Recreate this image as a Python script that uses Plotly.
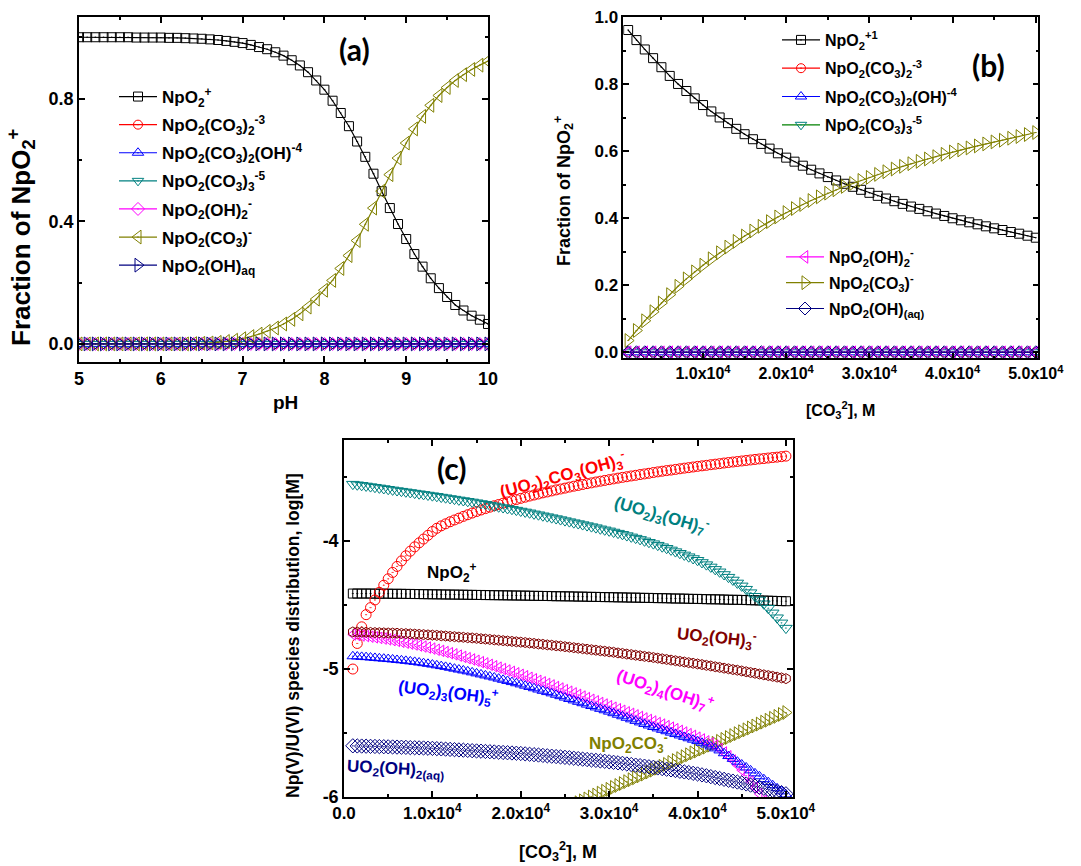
import plotly.graph_objects as go

W, H = 1081, 866
FONT = "Liberation Sans, Arial, sans-serif"
LFONT = "Lato, Open Sans, sans-serif"

# ---------------- panel (a): fraction vs pH ----------------
ph = [5.0, 5.1, 5.2, 5.3, 5.4, 5.5, 5.6, 5.7, 5.8, 5.9,
      6.0, 6.1, 6.2, 6.3, 6.4, 6.5, 6.6, 6.7, 6.8, 6.9,
      7.0, 7.1, 7.2, 7.3, 7.4, 7.5, 7.6, 7.7, 7.8, 7.9,
      8.0, 8.1, 8.2, 8.3, 8.4, 8.5, 8.6, 8.7, 8.8, 8.9,
      9.0, 9.1, 9.2, 9.3, 9.4, 9.5, 9.6, 9.7, 9.8, 9.9, 10.0]
a_npo2 = [1.000, 1.000, 1.000, 1.000, 1.000, 1.000, 1.000, 0.999, 0.999, 0.999,
          0.999, 0.998, 0.998, 0.997, 0.996, 0.995, 0.993, 0.991, 0.988, 0.985,
          0.981, 0.975, 0.968, 0.961, 0.951, 0.940, 0.925, 0.908, 0.886, 0.859,
          0.829, 0.793, 0.753, 0.710, 0.660, 0.610, 0.555, 0.498, 0.443, 0.391,
          0.342, 0.293, 0.252, 0.214, 0.182, 0.153, 0.127, 0.109, 0.092, 0.079, 0.065]
a_npo2co3 = [0.000, 0.000, 0.000, 0.000, 0.000, 0.000, 0.000, 0.000, 0.000, 0.000,
             0.000, 0.000, 0.000, 0.000, 0.001, 0.002, 0.003, 0.005, 0.008, 0.012,
             0.017, 0.024, 0.032, 0.041, 0.052, 0.065, 0.080, 0.098, 0.120, 0.146,
             0.175, 0.207, 0.246, 0.288, 0.337, 0.390, 0.443, 0.498, 0.552, 0.606,
             0.655, 0.701, 0.742, 0.778, 0.810, 0.836, 0.859, 0.878, 0.895, 0.909, 0.922]
a_trace = [0.0, 0.0, 0.0, 0.0, 0.0, 0.0, 0.0, 0.0, 0.0, 0.0,
           0.0, 0.0, 0.0, 0.0, 0.0, 0.0, 0.0, 0.0, 0.0, 0.0,
           0.0, 0.0, 0.0, 0.0, 0.0, 0.0, 0.0, 0.0, 0.0, 0.0,
           0.0, 0.0, 0.0, 0.0, 0.0, 0.0, 0.0, 0.0, 0.0, 0.0,
           0.0, 0.0, 0.0, 0.0, 0.0, 0.0, 0.0, 0.0, 0.0, 0.0, 0.0]

# ---------------- panel (b): fraction vs [CO3] (x in 1e-4 M) ----------------
cb = [0.1, 0.2, 0.3, 0.4, 0.5, 0.6, 0.7, 0.8, 0.9, 1.0,
      1.1, 1.2, 1.3, 1.4, 1.5, 1.6, 1.7, 1.8, 1.9, 2.0,
      2.1, 2.2, 2.3, 2.4, 2.5, 2.6, 2.7, 2.8, 2.9, 3.0,
      3.1, 3.2, 3.3, 3.4, 3.5, 3.6, 3.7, 3.8, 3.9, 4.0,
      4.1, 4.2, 4.3, 4.4, 4.5, 4.6, 4.7, 4.8, 4.9, 5.0]
b_npo2 = [0.962, 0.932, 0.904, 0.878, 0.851, 0.825, 0.801, 0.780, 0.758, 0.738,
          0.719, 0.701, 0.684, 0.667, 0.651, 0.636, 0.622, 0.608, 0.594, 0.581,
          0.569, 0.557, 0.545, 0.534, 0.523, 0.513, 0.503, 0.494, 0.485, 0.476,
          0.467, 0.459, 0.451, 0.443, 0.435, 0.428, 0.421, 0.414, 0.407, 0.400,
          0.394, 0.388, 0.382, 0.376, 0.370, 0.365, 0.359, 0.354, 0.348, 0.342]
b_npo2co3 = [0.035, 0.065, 0.094, 0.121, 0.147, 0.172, 0.197, 0.219, 0.240, 0.260,
             0.279, 0.297, 0.314, 0.331, 0.347, 0.362, 0.376, 0.390, 0.404, 0.417,
             0.429, 0.441, 0.453, 0.464, 0.475, 0.485, 0.495, 0.504, 0.513, 0.522,
             0.531, 0.539, 0.547, 0.555, 0.563, 0.570, 0.577, 0.584, 0.591, 0.598,
             0.604, 0.610, 0.616, 0.622, 0.628, 0.633, 0.639, 0.644, 0.650, 0.656]
b_trace = [0.0, 0.0, 0.0, 0.0, 0.0, 0.0, 0.0, 0.0, 0.0, 0.0,
           0.0, 0.0, 0.0, 0.0, 0.0, 0.0, 0.0, 0.0, 0.0, 0.0,
           0.0, 0.0, 0.0, 0.0, 0.0, 0.0, 0.0, 0.0, 0.0, 0.0,
           0.0, 0.0, 0.0, 0.0, 0.0, 0.0, 0.0, 0.0, 0.0, 0.0,
           0.0, 0.0, 0.0, 0.0, 0.0, 0.0, 0.0, 0.0, 0.0, 0.0]

# ---------------- panel (c): log[M] vs [CO3] (x in 1e-4 M) ----------------
cc = [0.10, 0.15, 0.20, 0.25, 0.30, 0.35, 0.40, 0.45, 0.50, 0.55,
      0.60, 0.65, 0.70, 0.75, 0.80, 0.85, 0.90, 0.95, 1.00, 1.05,
      1.10, 1.15, 1.20, 1.25, 1.30, 1.35, 1.40, 1.45, 1.50, 1.55,
      1.60, 1.65, 1.70, 1.75, 1.80, 1.85, 1.90, 1.95, 2.00, 2.05,
      2.10, 2.15, 2.20, 2.25, 2.30, 2.35, 2.40, 2.45, 2.50, 2.55,
      2.60, 2.65, 2.70, 2.75, 2.80, 2.85, 2.90, 2.95, 3.00, 3.05,
      3.10, 3.15, 3.20, 3.25, 3.30, 3.35, 3.40, 3.45, 3.50, 3.55,
      3.60, 3.65, 3.70, 3.75, 3.80, 3.85, 3.90, 3.95, 4.00, 4.05,
      4.10, 4.15, 4.20, 4.25, 4.30, 4.35, 4.40, 4.45, 4.50, 4.55,
      4.60, 4.65, 4.70, 4.75, 4.80, 4.85, 4.90, 4.95, 5.00]
c_npo2 = [-4.410, -4.410, -4.410, -4.410, -4.410, -4.411, -4.411, -4.411, -4.411, -4.412,
          -4.412, -4.412, -4.413, -4.413, -4.414, -4.414, -4.415, -4.415, -4.416, -4.416,
          -4.417, -4.417, -4.418, -4.418, -4.419, -4.419, -4.420, -4.420, -4.421, -4.421,
          -4.422, -4.422, -4.423, -4.423, -4.424, -4.424, -4.425, -4.425, -4.426, -4.426,
          -4.427, -4.428, -4.428, -4.429, -4.429, -4.430, -4.431, -4.431, -4.432, -4.432,
          -4.433, -4.434, -4.434, -4.435, -4.436, -4.436, -4.437, -4.438, -4.438, -4.439,
          -4.440, -4.440, -4.441, -4.442, -4.442, -4.443, -4.444, -4.444, -4.445, -4.446,
          -4.446, -4.447, -4.448, -4.449, -4.449, -4.450, -4.451, -4.452, -4.452, -4.453,
          -4.454, -4.455, -4.455, -4.456, -4.457, -4.458, -4.459, -4.459, -4.460, -4.461,
          -4.462, -4.463, -4.464, -4.465, -4.466, -4.467, -4.468, -4.469, -4.470]
c_uo2_2co3oh3 = [-5.000, -4.800, -4.670, -4.575, -4.520, -4.460, -4.400, -4.345, -4.295, -4.245,
                 -4.198, -4.155, -4.115, -4.079, -4.045, -4.014, -3.984, -3.955, -3.925, -3.900,
                 -3.881, -3.865, -3.849, -3.835, -3.821, -3.807, -3.794, -3.781, -3.769, -3.757,
                 -3.746, -3.735, -3.724, -3.714, -3.704, -3.694, -3.684, -3.675, -3.666, -3.657,
                 -3.648, -3.640, -3.632, -3.623, -3.616, -3.608, -3.600, -3.593, -3.586, -3.578,
                 -3.571, -3.565, -3.558, -3.551, -3.545, -3.538, -3.532, -3.526, -3.520, -3.514,
                 -3.508, -3.502, -3.497, -3.491, -3.486, -3.480, -3.475, -3.470, -3.464, -3.459,
                 -3.454, -3.449, -3.445, -3.440, -3.435, -3.430, -3.426, -3.421, -3.416, -3.412,
                 -3.408, -3.403, -3.399, -3.395, -3.390, -3.386, -3.382, -3.378, -3.374, -3.370,
                 -3.366, -3.362, -3.358, -3.355, -3.351, -3.347, -3.344, -3.340, -3.336]
c_uo2_3oh7 = [-3.555, -3.560, -3.564, -3.569, -3.574, -3.579, -3.584, -3.589, -3.595, -3.600,
              -3.605, -3.610, -3.615, -3.620, -3.625, -3.630, -3.635, -3.640, -3.645, -3.650,
              -3.656, -3.661, -3.667, -3.672, -3.678, -3.683, -3.689, -3.694, -3.700, -3.706,
              -3.712, -3.719, -3.725, -3.732, -3.738, -3.745, -3.751, -3.758, -3.765, -3.772,
              -3.779, -3.787, -3.794, -3.802, -3.809, -3.817, -3.824, -3.832, -3.840, -3.848,
              -3.856, -3.863, -3.871, -3.879, -3.887, -3.895, -3.904, -3.912, -3.920, -3.929,
              -3.938, -3.947, -3.957, -3.967, -3.977, -3.987, -3.998, -4.009, -4.020, -4.032,
              -4.044, -4.056, -4.069, -4.082, -4.095, -4.108, -4.122, -4.136, -4.150, -4.167,
              -4.184, -4.202, -4.221, -4.240, -4.261, -4.282, -4.304, -4.327, -4.350, -4.376,
              -4.403, -4.431, -4.460, -4.490, -4.525, -4.561, -4.599, -4.639, -4.680]
c_uo2oh3 = [-4.710, -4.711, -4.712, -4.713, -4.714, -4.715, -4.716, -4.717, -4.718, -4.719,
            -4.720, -4.722, -4.723, -4.725, -4.727, -4.729, -4.731, -4.733, -4.735, -4.737,
            -4.740, -4.742, -4.745, -4.747, -4.750, -4.752, -4.755, -4.757, -4.760, -4.763,
            -4.766, -4.769, -4.772, -4.775, -4.778, -4.781, -4.784, -4.787, -4.790, -4.793,
            -4.797, -4.800, -4.804, -4.807, -4.811, -4.814, -4.818, -4.821, -4.825, -4.829,
            -4.833, -4.837, -4.841, -4.845, -4.849, -4.853, -4.857, -4.861, -4.865, -4.869,
            -4.874, -4.878, -4.883, -4.887, -4.892, -4.896, -4.901, -4.905, -4.910, -4.915,
            -4.920, -4.925, -4.930, -4.935, -4.940, -4.945, -4.950, -4.955, -4.960, -4.965,
            -4.971, -4.976, -4.982, -4.987, -4.993, -4.998, -5.004, -5.009, -5.015, -5.021,
            -5.027, -5.033, -5.039, -5.045, -5.051, -5.057, -5.063, -5.069, -5.075]
c_uo2_4oh7 = [-4.730, -4.734, -4.738, -4.742, -4.747, -4.752, -4.757, -4.762, -4.768, -4.774,
              -4.780, -4.787, -4.794, -4.801, -4.808, -4.816, -4.824, -4.832, -4.840, -4.849,
              -4.858, -4.867, -4.876, -4.885, -4.895, -4.905, -4.915, -4.925, -4.935, -4.946,
              -4.956, -4.967, -4.978, -4.989, -5.000, -5.011, -5.022, -5.033, -5.045, -5.056,
              -5.068, -5.080, -5.092, -5.104, -5.116, -5.128, -5.140, -5.152, -5.165, -5.177,
              -5.190, -5.202, -5.215, -5.227, -5.240, -5.252, -5.265, -5.277, -5.290, -5.302,
              -5.314, -5.326, -5.338, -5.350, -5.362, -5.374, -5.386, -5.398, -5.410, -5.422,
              -5.434, -5.446, -5.458, -5.470, -5.483, -5.496, -5.509, -5.522, -5.536, -5.550,
              -5.565, -5.581, -5.598, -5.625, -5.652, -5.682, -5.715, -5.751, -5.790, -5.832,
              -5.877, -5.925, -5.976, -6.030, -6.087, -6.147, -6.210, -6.275, -6.340]
c_uo2_3oh5 = [-4.900, -4.902, -4.905, -4.907, -4.910, -4.913, -4.916, -4.919, -4.922, -4.925,
              -4.929, -4.932, -4.936, -4.940, -4.944, -4.949, -4.954, -4.959, -4.965, -4.971,
              -4.977, -4.983, -4.990, -4.997, -5.004, -5.011, -5.018, -5.026, -5.034, -5.042,
              -5.050, -5.058, -5.066, -5.075, -5.084, -5.093, -5.102, -5.111, -5.120, -5.130,
              -5.140, -5.150, -5.160, -5.170, -5.180, -5.190, -5.201, -5.212, -5.223, -5.234,
              -5.245, -5.256, -5.267, -5.278, -5.289, -5.300, -5.311, -5.322, -5.333, -5.345,
              -5.357, -5.369, -5.381, -5.393, -5.405, -5.417, -5.429, -5.441, -5.453, -5.464,
              -5.475, -5.486, -5.497, -5.508, -5.519, -5.530, -5.541, -5.552, -5.563, -5.576,
              -5.590, -5.605, -5.620, -5.636, -5.658, -5.680, -5.702, -5.724, -5.746, -5.769,
              -5.792, -5.815, -5.838, -5.861, -5.884, -5.908, -5.932, -5.956, -5.980]
c_uo2oh2 = [-5.600, -5.601, -5.602, -5.603, -5.604, -5.605, -5.606, -5.607, -5.608, -5.609,
            -5.610, -5.611, -5.612, -5.614, -5.615, -5.616, -5.617, -5.619, -5.620, -5.622,
            -5.624, -5.626, -5.628, -5.630, -5.632, -5.634, -5.636, -5.638, -5.640, -5.642,
            -5.644, -5.646, -5.648, -5.650, -5.652, -5.654, -5.656, -5.658, -5.660, -5.663,
            -5.666, -5.669, -5.672, -5.675, -5.678, -5.681, -5.684, -5.687, -5.690, -5.693,
            -5.697, -5.700, -5.704, -5.707, -5.711, -5.714, -5.718, -5.721, -5.725, -5.729,
            -5.733, -5.737, -5.742, -5.746, -5.751, -5.755, -5.759, -5.764, -5.768, -5.773,
            -5.778, -5.783, -5.788, -5.793, -5.799, -5.804, -5.809, -5.815, -5.820, -5.827,
            -5.834, -5.841, -5.848, -5.855, -5.862, -5.869, -5.876, -5.883, -5.890, -5.898,
            -5.907, -5.915, -5.924, -5.932, -5.941, -5.949, -5.958, -5.966, -5.975]
cc_olive = [2.60, 2.65, 2.70, 2.75, 2.80, 2.85, 2.90, 2.95, 3.00, 3.05,
            3.10, 3.15, 3.20, 3.25, 3.30, 3.35, 3.40, 3.45, 3.50, 3.55,
            3.60, 3.65, 3.70, 3.75, 3.80, 3.85, 3.90, 3.95, 4.00, 4.05,
            4.10, 4.15, 4.20, 4.25, 4.30, 4.35, 4.40, 4.45, 4.50, 4.55,
            4.60, 4.65, 4.70, 4.75, 4.80, 4.85, 4.90, 4.95, 5.00]
c_npo2co3 = [-6.060, -6.045, -6.030, -6.015, -6.000, -5.985, -5.970, -5.955, -5.940, -5.925,
             -5.910, -5.895, -5.880, -5.865, -5.850, -5.835, -5.820, -5.805, -5.790, -5.775,
             -5.760, -5.745, -5.730, -5.715, -5.700, -5.685, -5.670, -5.655, -5.640, -5.625,
             -5.610, -5.595, -5.580, -5.565, -5.550, -5.535, -5.520, -5.505, -5.490, -5.475,
             -5.460, -5.445, -5.430, -5.415, -5.400, -5.385, -5.370, -5.355, -5.340]

# ---------------- legend names ----------------
N_NPO2 = "NpO<sub>2</sub><sup>+</sup>"
N_NPO2_1 = "NpO<sub>2</sub><sup>+1</sup>"
N_DI = "NpO<sub>2</sub>(CO<sub>3</sub>)<sub>2</sub><sup>-3</sup>"
N_DIOH = "NpO<sub>2</sub>(CO<sub>3</sub>)<sub>2</sub>(OH)<sup>-4</sup>"
N_TRI = "NpO<sub>2</sub>(CO<sub>3</sub>)<sub>3</sub><sup>-5</sup>"
N_OH2 = "NpO<sub>2</sub>(OH)<sub>2</sub><sup>-</sup>"
N_CO3 = "NpO<sub>2</sub>(CO<sub>3</sub>)<sup>-</sup>"
N_OHAQ = "NpO<sub>2</sub>(OH)<sub>aq</sub>"
N_OHAQ_B = "NpO<sub>2</sub>(OH)<sub>(aq)</sub>"

BLACK, RED, BLUE, TEAL, MAG, OLIVE, NAVY, GREEN, WINE = (
    "#000000", "#FF0000", "#0000FF", "#008080", "#FF00FF", "#808000", "#000080", "#008000", "#800000")

fig = go.Figure()


def add(x, y, name, color, symbol, size, xa, ya, legend="legend", showlegend=True,
        linecolor=None, mode="lines+markers", gid=""):
    fig.add_trace(go.Scatter(
        x=x, y=y, name=name, mode=mode, xaxis=xa, yaxis=ya,
        line=dict(color=linecolor or color, width=1.2),
        marker=dict(symbol=symbol, size=size, color=color, line=dict(color=color, width=1)),
        legend=legend, showlegend=showlegend, legendgroup=gid or name + xa,
        cliponaxis=True))


# panel (a)
add(ph, a_npo2, N_NPO2, BLACK, "square-open-dot", 9, "x", "y", gid="a1")
add(ph, a_trace, N_DI, RED, "circle-open-dot", 9, "x", "y", gid="a2")
add(ph, a_trace, N_DIOH, BLUE, "triangle-up-open-dot", 10, "x", "y", gid="a3")
add(ph, a_trace, N_TRI, TEAL, "triangle-down-open-dot", 10, "x", "y", gid="a4")
add(ph, a_trace, N_OH2, MAG, "diamond-open-dot", 10, "x", "y", gid="a5")
add(ph, a_npo2co3, N_CO3, OLIVE, "triangle-left-open-dot", 12, "x", "y", gid="a6")
add(ph, a_trace, N_OHAQ, NAVY, "triangle-right-open-dot", 12, "x", "y", gid="a7")

# panel (b)
add(cb, b_npo2, N_NPO2_1, BLACK, "square-open-dot", 9, "x2", "y2", legend="legend2", gid="b1")
add(cb, b_trace, N_DI, RED, "circle-open-dot", 9, "x2", "y2", legend="legend2", gid="b2")
add(cb, b_trace, N_DIOH, BLUE, "triangle-up-open-dot", 10, "x2", "y2", legend="legend2", gid="b3")
add(cb, b_trace, N_TRI, TEAL, "triangle-down-open-dot", 10, "x2", "y2", legend="legend2",
    linecolor=GREEN, gid="b4")
add(cb, b_trace, N_OH2, MAG, "triangle-left-open-dot", 11, "x2", "y2", legend="legend3", gid="b5")
add(cb, b_npo2co3, N_CO3, OLIVE, "triangle-right-open-dot", 12, "x2", "y2", legend="legend3", gid="b6")
add(cb, b_trace, N_OHAQ_B, NAVY, "diamond-open-dot", 10, "x2", "y2", legend="legend3", gid="b7")

# panel (c)
add(cc_olive, c_npo2co3, "NpO2CO3-", OLIVE, "triangle-right-open-dot", 12, "x3", "y3",
    showlegend=False, mode="markers")
add(cc, c_npo2, "NpO2+", BLACK, "square-open-dot", 9, "x3", "y3", showlegend=False, mode="markers")
add(cc, c_uo2_2co3oh3, "(UO2)2CO3(OH)3-", RED, "circle-open-dot", 10, "x3", "y3",
    showlegend=False, mode="markers")
add(cc, c_uo2_3oh7, "(UO2)3(OH)7-", TEAL, "triangle-down-open-dot", 11, "x3", "y3",
    showlegend=False, mode="markers")
add(cc, c_uo2_4oh7, "(UO2)4(OH)7+", MAG, "triangle-left-open-dot", 10, "x3", "y3",
    showlegend=False, mode="markers")
add(cc, c_uo2_3oh5, "(UO2)3(OH)5+", BLUE, "triangle-up-open-dot", 10, "x3", "y3",
    showlegend=False, mode="markers")
add(cc, c_uo2oh2, "UO2(OH)2(aq)", NAVY, "diamond-open-dot", 11, "x3", "y3",
    showlegend=False, mode="markers")
add(cc, c_uo2oh3, "UO2(OH)3-", WINE, "hexagon-open-dot", 10, "x3", "y3",
    showlegend=False, mode="markers")


def axis(domain, rng, anchor, tickvals, ticktext, minorvals, size):
    return dict(domain=domain, range=rng, anchor=anchor, tickmode="array",
                tickvals=tickvals, ticktext=ticktext, automargin=False,
                showline=True, linecolor="black", linewidth=1.5, mirror="ticks",
                ticks="inside", ticklen=6, tickwidth=1.5, tickcolor="black",
                showgrid=False, zeroline=False,
                tickfont=dict(family=FONT, size=size, color="black", weight="bold"),
                minor=dict(tickmode="array", tickvals=minorvals, ticks="inside",
                           ticklen=3, tickwidth=1.5, tickcolor="black", showgrid=False))


sci = ["1.0x10<sup>4</sup>", "2.0x10<sup>4</sup>", "3.0x10<sup>4</sup>",
       "4.0x10<sup>4</sup>", "5.0x10<sup>4</sup>"]

layout = dict(
    width=W, height=H, margin=dict(l=0, r=0, t=0, b=0, pad=0), autosize=False,
    paper_bgcolor="white", plot_bgcolor="white",
    xaxis=axis([79 / W, 488 / W], [5, 10], "y", [5, 6, 7, 8, 9, 10],
               ["5", "6", "7", "8", "9", "10"], [5.5, 6.5, 7.5, 8.5, 9.5], 18),
    yaxis=axis([1 - 361.7 / H, 1 - 17 / H], [-0.058, 1.066], "x", [0, 0.4, 0.8],
               ["0.0", "0.4", "0.8"], [0.2, 0.6, 1.0], 18),
    xaxis2=axis([623.3 / W, 1038.3 / W], [0.042, 5.03], "y2", [1, 2, 3, 4, 5], sci,
                [0.5, 1.5, 2.5, 3.5, 4.5], 16),
    yaxis2=axis([1 - 358.3 / H, 1 - 17.3 / H], [-0.018, 1.0], "x2", [0, 0.2, 0.4, 0.6, 0.8, 1.0],
                ["0.0", "0.2", "0.4", "0.6", "0.8", "1.0"], [0.1, 0.3, 0.5, 0.7, 0.9], 17),
    xaxis3=axis([344 / W, 793 / W], [0, 5.08], "y3", [0, 1, 2, 3, 4, 5], ["0.0"] + sci,
                [0.5, 1.5, 2.5, 3.5, 4.5], 17),
    yaxis3=axis([1 - 797 / H, 1 - 440 / H], [-6, -3.21], "x3", [-6, -5, -4],
                ["-6", "-5", "-4"], [-5.5, -4.5, -3.5], 18),
    legend=dict(x=114 / W, y=1 - 79 / H, xanchor="left", yanchor="top", bgcolor="rgba(0,0,0,0)",
                font=dict(family=FONT, size=17, color="black", weight="bold"),
                itemwidth=38, traceorder="grouped", tracegroupgap=3),
    legend2=dict(x=777 / W, y=1 - 23 / H, xanchor="left", yanchor="top", bgcolor="rgba(0,0,0,0)",
                 font=dict(family=FONT, size=16, color="black", weight="bold"),
                 itemwidth=38, traceorder="grouped", tracegroupgap=4.5),
    legend3=dict(x=781 / W, y=1 - 240 / H, xanchor="left", yanchor="top", bgcolor="rgba(0,0,0,0)",
                 font=dict(family=FONT, size=16, color="black", weight="bold"),
                 itemwidth=38, traceorder="grouped", tracegroupgap=2),
    showlegend=True,
)
fig.update_layout(**layout)


def ann(text, xp, yp, size, color="black", angle=0, family=FONT):
    return dict(text=text, x=xp / W, y=1 - yp / H, xref="paper", yref="paper",
                showarrow=False, textangle=angle, xanchor="center", yanchor="middle",
                font=dict(family=family, size=size, color=color, weight="bold"))


annotations = [
    ann("(a)", 354, 49, 30, family=LFONT),
    ann("(b)", 988, 65, 30, family=LFONT),
    ann("(c)", 452, 468, 30, family=LFONT),
    ann("Fraction of NpO<sub>2</sub><sup>+</sup>", 21, 238, 26, angle=-90),
    ann("pH", 285, 402, 19),
    ann("Fraction of NpO<sub>2</sub><sup>+</sup>", 563, 191, 18, angle=-90),
    ann("[CO<sub>3</sub><sup>2</sup>], M", 840, 410, 16),
    ann("Np(V)/U(VI) species distribution, log[M]", 293, 636, 17.5, angle=-90),
    ann("[CO<sub>3</sub><sup>2</sup>], M", 558, 851, 18),
    ann("(UO<sub>2</sub>)<sub>2</sub>CO<sub>3</sub>(OH)<sub>3</sub><sup>-</sup>", 563, 475, 17, RED, -15),
    ann("(UO<sub>2</sub>)<sub>3</sub>(OH)<sub>7</sub><sup>-</sup>", 662, 515, 17, TEAL, 16),
    ann("NpO<sub>2</sub><sup>+</sup>", 452, 572, 17, BLACK),
    ann("UO<sub>2</sub>(OH)<sub>3</sub><sup>-</sup>", 717, 637, 17, WINE, 6),
    ann("(UO<sub>2</sub>)<sub>3</sub>(OH)<sub>5</sub><sup>+</sup>", 448, 692, 17, BLUE, 7),
    ann("(UO<sub>2</sub>)<sub>4</sub>(OH)<sub>7</sub><sup>+</sup>", 665, 690, 17, MAG, 18),
    ann("NpO<sub>2</sub>CO<sub>3</sub><sup>-</sup>", 628, 743, 17, OLIVE),
    ann("UO<sub>2</sub>(OH)<sub>2(aq)</sub>", 395, 770, 17, NAVY, 3),
]
fig.update_layout(annotations=annotations)

fig.write_html("out.html", config={"displayModeBar": False},
               post_script="document.body.style.margin='0px';")
